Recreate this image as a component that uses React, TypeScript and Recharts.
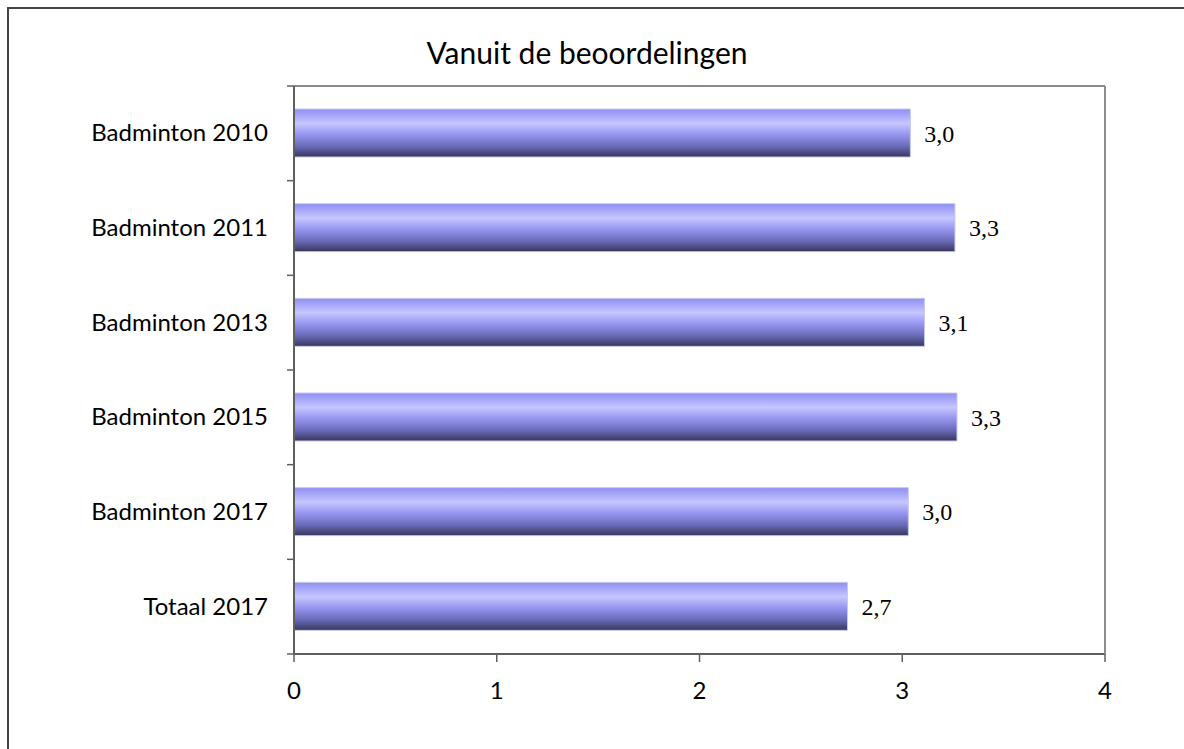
import React from 'react'
import { Bar, BarChart, LabelList, XAxis, YAxis } from 'recharts'

const categories = ['Badminton 2010', 'Badminton 2011', 'Badminton 2013', 'Badminton 2015', 'Badminton 2017', 'Totaal 2017']
const scores = [3.04, 3.26, 3.11, 3.27, 3.03, 2.73]
const xTicks = [0, 1, 2, 3, 4]

const data = categories.map((name, i) => ({ name, score: scores[i] }))

const W = 1184
const H = 749
const margin = { top: 85, right: 78, bottom: 55, left: 0 }
const X_AXIS_H = 40
const Y_AXIS_W = 294
const PLOT_H = H - margin.top - margin.bottom - X_AXIS_H - 1
const STEP = PLOT_H / categories.length

const sans = 'Lato, "Open Sans", sans-serif'
const serif = '"Liberation Serif", "DejaVu Serif", serif'
const axisColor = '#5f5f5f'
const frameColor = '#8c8c8c'

const CategoryTick = (props: any) => {
  const { x, y, payload, index } = props
  const top = y - STEP / 2
  return (
    <g>
      <line x1={x - 7} x2={x} y1={top} y2={top} stroke={axisColor} strokeWidth={1.5} />
      {index === categories.length - 1 && (
        <line x1={x - 7} x2={x} y1={y + STEP / 2} y2={y + STEP / 2} stroke={axisColor} strokeWidth={1.5} />
      )}
      <text x={x - 26} y={y} dy={8} textAnchor='end' fontFamily={sans} fontSize={24} fill='#000'>
        {payload.value}
      </text>
    </g>
  )
}

const fmt = (v: any) => Number(v).toFixed(1).replace('.', ',')

export default function App() {
  return (
    <div style={{ position: 'relative', width: W, height: H, background: '#fff' }}>
      <style>{'body{margin:0;}'}</style>
      <div
        style={{
          position: 'absolute',
          left: 7,
          top: 7,
          width: W,
          height: H,
          borderTop: '2px solid #444',
          borderLeft: '2px solid #444',
          boxSizing: 'border-box'
        }}
      />
      <div
        style={{
          position: 'absolute',
          left: 0,
          width: 1174,
          top: 34,
          textAlign: 'center',
          fontFamily: sans,
          fontSize: 30,
          color: '#000'
        }}
      >
        Vanuit de beoordelingen
      </div>
      <div style={{ position: 'absolute', left: 0, top: 0 }}>
        <BarChart width={W} height={H} data={data} layout='vertical' margin={margin}>
          <defs>
            <linearGradient id='barFill' x1='0' y1='0' x2='0' y2='1'>
              <stop offset='0%' stopColor='#8e8ef4' />
              <stop offset='30%' stopColor='#c6c6ff' />
              <stop offset='52%' stopColor='#9898f2' />
              <stop offset='78%' stopColor='#6a6ab8' />
              <stop offset='100%' stopColor='#36365c' />
            </linearGradient>
          </defs>
          <XAxis
            type='number'
            domain={[0, 4]}
            ticks={xTicks}
            height={X_AXIS_H}
            axisLine={{ stroke: axisColor, strokeWidth: 2 }}
            tickLine={{ stroke: axisColor, strokeWidth: 1.5 }}
            tickSize={8}
            tickMargin={20}
            tick={{ fontFamily: sans, fontSize: 24, fill: '#000' }}
          />
          <XAxis
            xAxisId='top'
            orientation='top'
            type='number'
            domain={[0, 4]}
            height={1}
            tick={false}
            tickLine={false}
            axisLine={{ stroke: frameColor, strokeWidth: 2 }}
          />
          <YAxis
            type='category'
            dataKey='name'
            width={Y_AXIS_W}
            tickSize={0}
            tickMargin={0}
            tickLine={false}
            axisLine={{ stroke: axisColor, strokeWidth: 2 }}
            tick={<CategoryTick />}
          />
          <YAxis
            yAxisId='right'
            orientation='right'
            type='category'
            dataKey='name'
            width={1}
            tick={false}
            tickLine={false}
            axisLine={{ stroke: frameColor, strokeWidth: 2 }}
          />
          <Bar
            dataKey='score'
            fill='url(#barFill)'
            stroke='#c8c8ec'
            strokeWidth={1}
            barSize={48}
            isAnimationActive={false}
          >
            <LabelList
              dataKey='score'
              position='right'
              offset={14}
              formatter={fmt}
              style={{ fontFamily: serif, fontSize: 24, fill: '#000' }}
            />
          </Bar>
        </BarChart>
      </div>
    </div>
  )
}
